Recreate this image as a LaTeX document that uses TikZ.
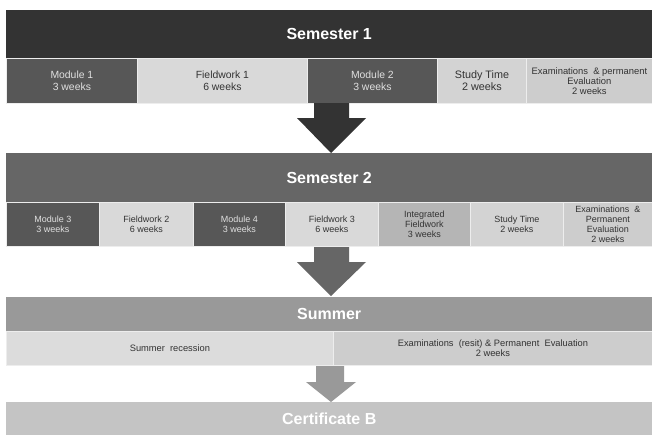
\documentclass[tikz,border=0pt]{standalone}
\usepackage{fontspec}
\setmainfont{Liberation Sans}
\definecolor{sone}{HTML}{333333}
\definecolor{stwo}{HTML}{666666}
\definecolor{ssum}{HTML}{999999}
\definecolor{scert}{HTML}{C4C4C4}
\definecolor{modc}{HTML}{575757}
\definecolor{fieldc}{HTML}{D9D9D9}
\definecolor{studyc}{HTML}{D3D3D3}
\definecolor{examc}{HTML}{CDCDCD}
\definecolor{integc}{HTML}{B5B5B5}
\definecolor{recc}{HTML}{DCDCDC}
\definecolor{sepc}{HTML}{EDEDED}
\begin{document}
\begin{tikzpicture}[x=1pt,y=-1pt,
  bar/.style={anchor=north west, inner sep=0pt, font=\bfseries\fontsize{16}{16}\selectfont, text=white},
  cell/.style={anchor=north west, inner sep=0pt, draw=sepc, line width=0.8pt, align=center, text=sone},
  modcell/.style={cell, fill=modc, text=white!88!black},
  fs1/.style={font=\fontsize{10.4}{11.4}\selectfont},
  fs2/.style={font=\fontsize{9}{9.8}\selectfont},
  fs3/.style={font=\fontsize{9.3}{10.2}\selectfont}
]
\useasboundingbox (0,0) rectangle (652,434);
\fill[white] (0,0) rectangle (652,434);
% Semester 1
\node[bar, fill=sone, minimum width=646pt, minimum height=48pt] (s1) at (6,10) {Semester 1};
\node[modcell, fs1, minimum width=131pt, minimum height=45pt] (m1) at (6,58) {Module 1\\3 weeks};
\node[cell, fs1, fill=fieldc, minimum width=170pt, minimum height=45pt] (f1) at (137,58) {Fieldwork 1\\6 weeks};
\node[modcell, fs1, minimum width=130pt, minimum height=45pt] (m2) at (307,58) {Module 2\\3 weeks};
\node[cell, font=\fontsize{10.8}{11.8}\selectfont, fill=studyc, minimum width=89pt, minimum height=45pt] (st1) at (437,58) {Study Time\\2 weeks};
\node[cell, font=\fontsize{9.4}{10}\selectfont, fill=examc, minimum width=126pt, minimum height=45pt] (e1) at (526,58) {Examinations\ \ \& permanent\\Evaluation\\2 weeks};
% Arrow 1
\fill[sone] (314,103) -- (349,103) -- (349,118) -- (366,118) -- (331,153) -- (297,118) -- (314,118) -- cycle;
% Semester 2
\node[bar, fill=stwo, minimum width=646pt, minimum height=49pt] (s2) at (6,153) {Semester 2};
\node[modcell, fs2, minimum width=93pt, minimum height=44pt] (m3) at (6,202) {Module 3\\3 weeks};
\node[cell, fs2, fill=fieldc, minimum width=94pt, minimum height=44pt] (f2) at (99,202) {Fieldwork 2\\6 weeks};
\node[modcell, fs2, minimum width=92pt, minimum height=44pt] (m4) at (193,202) {Module 4\\3 weeks};
\node[cell, fs2, fill=fieldc, minimum width=93pt, minimum height=44pt] (f3) at (285,202) {Fieldwork 3\\6 weeks};
\node[cell, fs2, fill=integc, minimum width=92pt, minimum height=44pt] (if) at (378,202) {Integrated\\Fieldwork\\3 weeks};
\node[cell, fs2, fill=studyc, minimum width=93pt, minimum height=44pt] (st2) at (470,202) {Study Time\\2 weeks};
\node[cell, fs2, fill=examc, minimum width=89pt, minimum height=44pt] (e2) at (563,202) {Examinations\ \ \&\\Permanent\\Evaluation\\2 weeks};
% Arrow 2
\fill[stwo] (314,247) -- (349,247) -- (349,262) -- (366,262) -- (331,296) -- (297,262) -- (314,262) -- cycle;
% Summer
\node[bar, fill=ssum, minimum width=646pt, minimum height=34pt] (su) at (6,297) {Summer};
\node[cell, fs3, fill=recc, minimum width=327pt, minimum height=34pt] (rec) at (6,331) {Summer\ \ recession};
\node[cell, fs3, fill=examc, minimum width=319pt, minimum height=34pt] (e3) at (333,331) {Examinations\ \ (resit) \& Permanent\ \ Evaluation\\2 weeks};
% Arrow 3
\fill[ssum] (316,366) -- (344,366) -- (344,382) -- (356,382) -- (331,402) -- (306,382) -- (316,382) -- cycle;
% Certificate B
\node[bar, fill=scert, minimum width=646pt, minimum height=34pt] (cb) at (6,402) {Certificate B};
\end{tikzpicture}
\end{document}
